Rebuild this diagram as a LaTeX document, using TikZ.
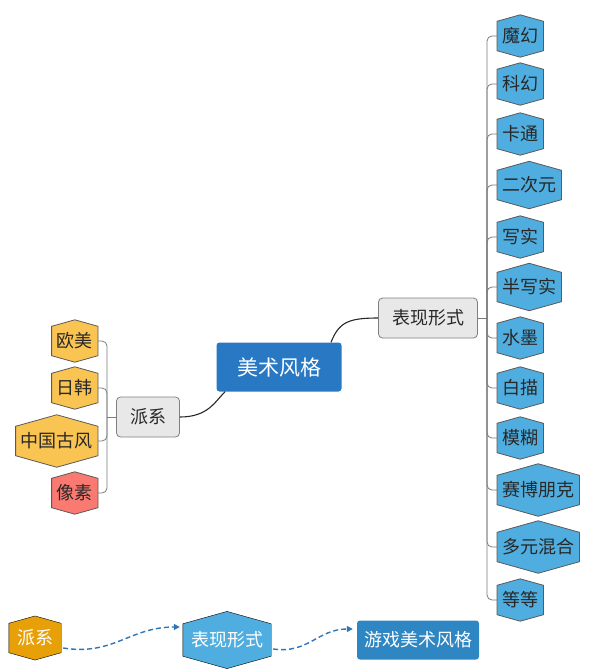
\documentclass[tikz,border=0pt]{standalone}
\usepackage{fontspec}
\newfontfamily\cjk{Noto Sans CJK SC}
\usetikzlibrary{calc,backgrounds,arrows.meta}
\definecolor{hexblue}{RGB}{79,174,223}
\definecolor{hexorange}{RGB}{250,196,82}
\definecolor{hexred}{RGB}{250,122,114}
\definecolor{hexline}{RGB}{90,90,90}
\definecolor{boxgray}{RGB}{232,232,232}
\definecolor{boxline}{RGB}{128,128,128}
\definecolor{rootblue}{RGB}{40,120,196}
\definecolor{legorange}{RGB}{232,160,8}
\definecolor{legblue}{RGB}{46,134,194}
\definecolor{flowblue}{RGB}{46,117,182}
\definecolor{txt}{RGB}{40,40,40}
\newcommand{\hexback}[2]{%
  \begin{scope}[on background layer]
  \filldraw[#2] (#1.north west) -- ($(#1.north)!0.28!90:(#1.north east)$) -- (#1.north east)
    -- (#1.south east) -- ($(#1.south)!0.28!-90:(#1.south east)$) -- (#1.south west) -- cycle;
  \end{scope}}

\begin{document}
\begin{tikzpicture}[x=1pt, y=-1pt,
  every node/.style={font=\cjk\fontsize{18}{18}\selectfont, text=txt},
  hexnode/.style={inner xsep=5pt, inner ysep=0pt, minimum height=29pt},
  graybox/.style={fill=boxgray, draw=boxline, line width=0.8pt, rounded corners=4pt, minimum height=40pt, inner xsep=7pt},
  rootbox/.style={fill=rootblue, rounded corners=3pt, minimum width=125pt, minimum height=49pt,
    text=white, font=\cjk\fontsize{21}{21}\selectfont},
  branch/.style={draw=hexline!80, line width=0.8pt, rounded corners=5pt},
  link/.style={draw=txt, line width=1.1pt},
  flow/.style={draw=flowblue, line width=1.4pt, dash pattern=on 5pt off 3pt, -{Triangle[length=6pt,width=6pt]}}]
\useasboundingbox (0,0) rectangle (595,672);

\node[rootbox] (root) at (279,367) {美术风格};
\node[graybox, minimum width=99pt] (biao) at (428,318) {表现形式};
\node[graybox, minimum width=63pt] (pai) at (148,417) {派系};
\coordinate (rbus) at (487,318);
\coordinate (lbus) at (107,417);

\draw[branch] (biao.east) -- (rbus);
\draw[branch] (pai.west) -- (lbus);
\draw[link] ($(root.north)+(52,0)$) .. controls +(8,-20) and +(-30,0) .. (biao.west);
\draw[link] (pai.east) .. controls +(28,0) and +(-10,10) .. ($(root.south)+(-54,0)$);

\foreach \t/\y [count=\i] in {魔幻/36, 科幻/84, 卡通/134, 二次元/185, 写实/237, 半写实/287,
    水墨/338, 白描/388, 模糊/438, 赛博朋克/490, 多元混合/547, 等等/600}{
  \node[hexnode, anchor=west] (s\i) at (497,\y) {\t};
  \hexback{s\i}{fill=hexblue, draw=hexline, line width=0.8pt}
  \draw[branch] (rbus) |- (s\i.west);
}

\foreach \t/\y/\c [count=\i] in {欧美/341/hexorange, 日韩/388/hexorange, 中国古风/441/hexorange, 像素/493/hexred}{
  \node[hexnode, anchor=east] (p\i) at (98,\y) {\t};
  \hexback{p\i}{fill=\c, draw=hexline, line width=0.8pt}
  \draw[branch] (lbus) |- (p\i.east);
}

\node[hexnode, inner xsep=8pt, text=white] (lg1) at (35,638) {派系};
\hexback{lg1}{fill=legorange}
\node[hexnode, inner xsep=8pt, minimum height=32pt, text=white] (lg2) at (227,640) {表现形式};
\hexback{lg2}{fill=hexblue}
\node[fill=legblue, rounded corners=3pt, minimum width=122pt, minimum height=39pt, text=white] (lg3) at (418,640) {游戏美术风格};

\draw[flow] ([shift={(2,10)}]lg1.east) .. controls +(50,8) and +(-50,0) .. ([shift={(-3,-13)}]lg2.west);
\draw[flow] ([shift={(2,9)}]lg2.east) .. controls +(35,5) and +(-35,0) .. ([shift={(-4,-11)}]lg3.west);
\end{tikzpicture}
\end{document}
